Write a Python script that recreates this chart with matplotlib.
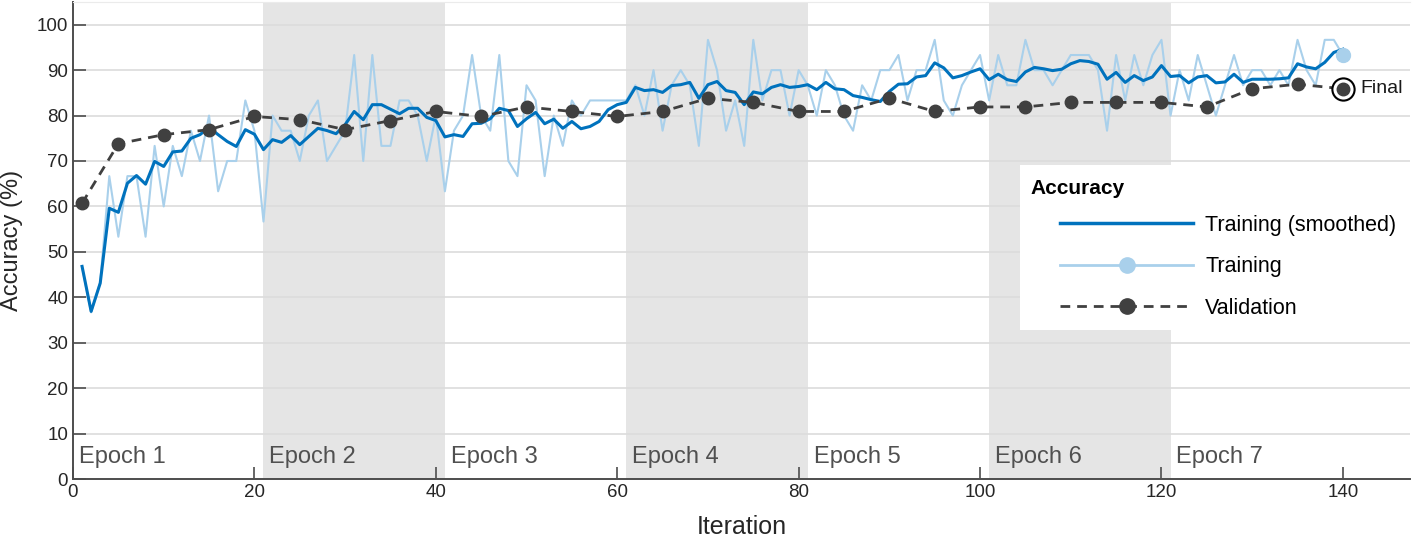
import matplotlib.pyplot as plt
from matplotlib.lines import Line2D
from matplotlib.patches import Rectangle
import numpy as np

plt.rcParams['font.family'] = ['Liberation Sans', 'DejaVu Sans']

# ---- data ----
iterations = np.arange(1, 141)

train_raw = [
    46.67, 36.67, 43.33, 66.67, 53.33, 66.67, 66.67, 53.33, 73.33, 60.00,
    73.33, 66.67, 76.67, 70.00, 80.00, 63.33, 70.00, 70.00, 83.33, 76.67,
    56.67, 80.00, 76.67, 76.67, 70.00, 80.00, 83.33, 70.00, 73.33, 76.67,
    93.33, 70.00, 93.33, 73.33, 73.33, 83.33, 83.33, 80.00, 70.00, 80.00,
    63.33, 76.67, 80.00, 93.33, 80.00, 76.67, 93.33, 70.00, 66.67, 86.67,
    83.33, 66.67, 80.00, 73.33, 83.33, 80.00, 83.33, 83.33, 83.33, 83.33,
    83.33, 86.67, 80.00, 90.00, 76.67, 86.67, 90.00, 86.67, 73.33, 96.67,
    90.00, 76.67, 83.33, 73.33, 96.67, 83.33, 90.00, 90.00, 80.00, 90.00,
    86.67, 80.00, 90.00, 86.67, 80.00, 76.67, 86.67, 83.33, 90.00, 90.00,
    93.33, 83.33, 90.00, 90.00, 96.67, 83.33, 80.00, 86.67, 90.00, 93.33,
    83.33, 93.33, 86.67, 86.67, 96.67, 90.00, 90.00, 86.67, 90.00, 93.33,
    93.33, 93.33, 90.00, 76.67, 93.33, 83.33, 93.33, 86.67, 93.33, 96.67,
    80.00, 90.00, 83.33, 93.33, 86.67, 80.00, 86.67, 93.33, 86.67, 90.00,
    90.00, 86.67, 90.00, 86.67, 96.67, 90.00, 86.67, 96.67, 96.67, 93.33,
]

train_smooth = [
    46.8, 36.9, 43.1, 59.6, 58.7, 65.1, 66.8, 64.9, 69.9, 68.8,
    72.0, 72.2, 75.0, 75.8, 77.4, 75.8, 74.3, 73.2, 76.9, 75.9,
    72.5, 74.7, 74.1, 75.6, 73.6, 75.4, 77.2, 76.7, 76.0, 78.0,
    80.9, 79.1, 82.4, 82.4, 81.4, 80.4, 81.6, 81.6, 79.6, 78.9,
    75.3, 75.8, 75.4, 78.2, 78.3, 79.3, 81.6, 81.1, 77.6, 79.3,
    80.7, 78.2, 79.2, 77.2, 78.7, 77.1, 77.6, 78.7, 81.3, 82.4,
    82.9, 86.2, 85.5, 85.7, 85.1, 86.6, 86.8, 87.3, 83.8, 86.8,
    87.5, 85.5, 85.1, 82.4, 85.2, 84.8, 86.2, 86.8, 86.2, 86.4,
    86.8, 85.7, 87.3, 85.9, 85.7, 84.4, 84.0, 83.5, 83.1, 85.3,
    86.9, 87.0, 88.5, 88.8, 91.6, 90.5, 88.3, 88.8, 89.6, 90.3,
    87.9, 89.1, 87.9, 87.5, 89.6, 90.6, 90.3, 89.9, 90.2, 91.4,
    92.1, 91.9, 91.3, 88.0, 89.5, 87.3, 88.8, 87.7, 88.5, 91.0,
    88.6, 88.8, 87.2, 88.5, 88.8, 87.2, 87.4, 89.1, 87.3, 88.0,
    88.0, 88.0, 88.1, 88.3, 91.4, 90.7, 90.3, 91.7, 93.9, 94.6,
]

val_iter = [1, 5, 10, 15, 20, 25, 30, 35, 40, 45, 50, 55, 60, 65, 70,
            75, 80, 85, 90, 95, 100, 105, 110, 115, 120, 125, 130, 135, 140]
val_acc = [60.7, 73.8, 75.8, 76.9, 79.8, 79.1, 76.9, 78.9, 80.9, 79.8,
           81.9, 80.9, 79.8, 80.9, 83.8, 82.9, 80.9, 80.9, 83.8, 80.9,
           81.9, 81.9, 82.9, 82.9, 82.9, 81.9, 85.9, 86.9, 85.9]

epoch_starts = [0, 21, 41, 61, 81, 101, 121]
epoch_ends = [21, 41, 61, 81, 101, 121, 141]
epoch_names = ['Epoch 1', 'Epoch 2', 'Epoch 3', 'Epoch 4', 'Epoch 5', 'Epoch 6', 'Epoch 7']

BLUE = '#0072BD'
LIGHT = '#A9D0EB'
DARK = '#404040'
W, H = 1416, 547

fig = plt.figure(figsize=(W / 100, H / 100), dpi=100)
ax = fig.add_axes([73 / W, 68 / H, (1410 - 73) / W, (479 - 2) / H])

# shaded epochs
for i, (s, e) in enumerate(zip(epoch_starts, epoch_ends)):
    if i % 2 == 1:
        ax.axvspan(s, e, color='#E5E5E5', zorder=0, lw=0)
    ax.text(s + 0.65, 3.5, epoch_names[i], fontsize=17, color='#505050',
            va='baseline', ha='left', zorder=1)

ax.plot(iterations, train_raw, color=LIGHT, lw=1.5, zorder=2)
ax.plot(iterations, train_smooth, color=BLUE, lw=2.2, zorder=3)
ax.plot(val_iter, val_acc, color=DARK, lw=2, ls=(0, (3.5, 2.5)),
        marker='o', ms=9, mfc=DARK, mec=DARK, zorder=4)

# final points
ax.plot(iterations[-1], train_raw[-1], 'o', color=LIGHT, ms=10, zorder=5)
ax.plot(val_iter[-1], val_acc[-1], 'o', mfc='white', mec='black', mew=1.5,
        ms=16, zorder=5)
ax.plot(val_iter[-1], val_acc[-1], 'o', color=DARK, ms=9, zorder=6)
ax.text(141.9, val_acc[-1], 'Final', fontsize=14, va='center', ha='left',
        color='#1a1a1a', zorder=6)

ax.set_xlim(0, 147.4)
ax.set_ylim(0, 105)
ax.set_xticks(np.arange(0, 141, 20))
ax.set_yticks(np.arange(0, 101, 10))
ax.yaxis.grid(True, color='#DCDCDC', lw=1.2, zorder=0.5)
ax.set_axisbelow(True)
ax.tick_params(direction='in', length=9, width=1.2, colors='#4d4d4d',
               labelcolor='#262626', labelsize=13.5)
for side in ['left', 'bottom']:
    ax.spines[side].set_color('#4d4d4d')
    ax.spines[side].set_linewidth(1.4)
ax.spines['top'].set_color('#EBEBEB')
ax.spines['right'].set_visible(False)

ax.set_xlabel('Iteration', fontsize=18, color='#262626', labelpad=10)
ax.set_ylabel('Accuracy (%)', fontsize=17, color='#262626', labelpad=10)

# legend box
fig.add_artist(Rectangle((1020 / W, 1 - 330 / H), (W - 1020) / W, 165 / H,
                         transform=fig.transFigure, facecolor='white',
                         edgecolor='none', zorder=1))
fig.text(1030 / W, 1 - 188 / H, 'Accuracy', fontsize=15, fontweight='bold',
         va='center', ha='left', zorder=3)
handles = [
    Line2D([], [], color=BLUE, lw=2.5),
    Line2D([], [], color=LIGHT, lw=2, marker='o', ms=11),
    Line2D([], [], color=DARK, lw=2, ls=(0, (3.5, 2.5)), marker='o', ms=11),
]
fig.legend(handles, ['Training (smoothed)', 'Training', 'Validation'],
           loc='upper left', bbox_to_anchor=(1060 / W, 1 - 215 / H),
           bbox_transform=fig.transFigure, frameon=False, fontsize=15.5,
           handlelength=6.2, handletextpad=0.55, labelspacing=0.95,
           numpoints=1, borderpad=0, borderaxespad=0)

fig.savefig('out.png', dpi=100)
